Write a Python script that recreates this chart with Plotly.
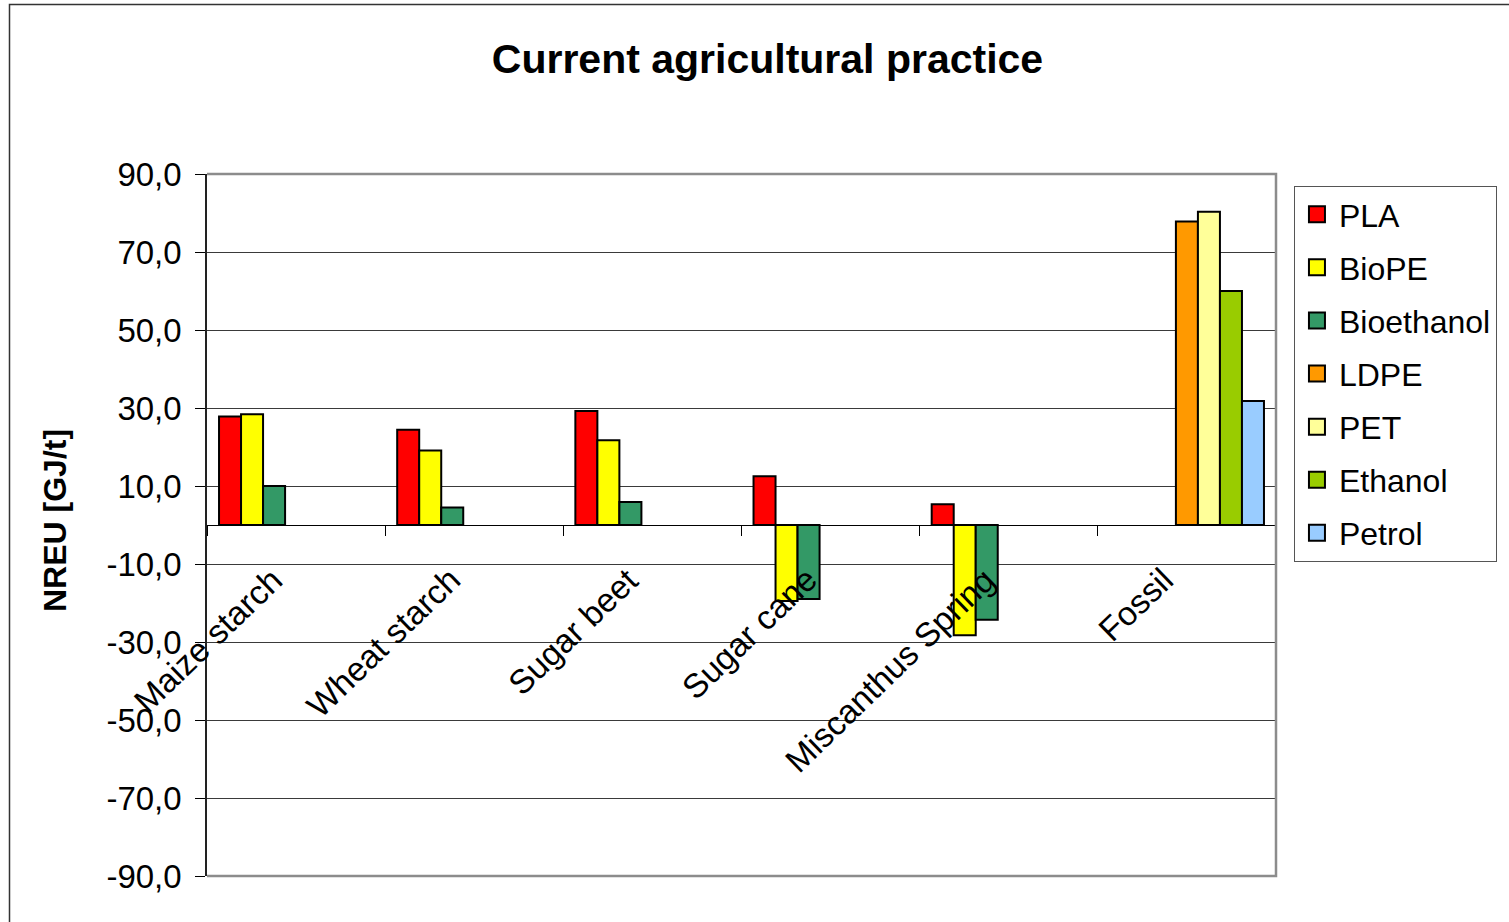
import plotly.graph_objects as go

# Feedstock / reference groups on the category axis
categories = ["Maize starch", "Wheat starch", "Sugar beet", "Sugar cane",
              "Miscanthus Spring", "Fossil"]

# NREU values per product (GJ/t); None where a product has no bar in a group
series_names = ["PLA", "BioPE", "Bioethanol", "LDPE", "PET", "Ethanol", "Petrol"]
pla        = [27.8, 24.4, 29.2, 12.5, 5.3, None]
biope      = [28.4, 19.1, 21.7, -19.5, -28.3, None]
bioethanol = [10.0, 4.5, 5.9, -19.0, -24.3, None]
ldpe       = [None, None, None, None, None, 77.8]
pet        = [None, None, None, None, None, 80.3]
ethanol    = [None, None, None, None, None, 60.0]
petrol     = [None, None, None, None, None, 31.8]

series_values = [pla, biope, bioethanol, ldpe, pet, ethanol, petrol]
series_colors = ["#FF0000", "#FFFF00", "#339966", "#FF9900", "#FFFF99", "#99CC00", "#99CCFF"]

y_ticks = [-90, -70, -50, -30, -10, 10, 30, 50, 70, 90]
y_ticktext = [f"{v:.1f}".replace(".", ",") for v in y_ticks]

FONT = "Liberation Sans, Arial, sans-serif"

fig = go.Figure()

for name, vals, col in zip(series_names, series_values, series_colors):
    fig.add_trace(go.Bar(
        x=categories, y=vals, name=name, legendgroup=name, showlegend=False,
        marker=dict(color=col, line=dict(color="#000000", width=2)),
    ))
    # legend entry with a larger square swatch
    fig.add_trace(go.Scatter(
        x=[None], y=[None], mode="markers", name=name, legendgroup=name,
        marker=dict(symbol="square", size=18, color=col,
                    line=dict(color="#000000", width=2)),
    ))

# Category labels, rotated and hung below the zero line
annotations = []
for cat in categories:
    annotations.append(dict(
        x=cat, y=-8.5, xref="x", yref="y", text=cat, showarrow=False,
        textangle=-44, xanchor="right", yanchor="top", xshift=-4,
        font=dict(family=FONT, size=33.5, color="#000000"),
    ))

# Y axis title
annotations.append(dict(
    x=-0.1422, y=0.5071, xref="paper", yref="paper", text="NREU [GJ/t]",
    showarrow=False, textangle=-90, xanchor="center", yanchor="middle",
    font=dict(family=FONT, size=32, color="#000000", weight="bold"),
))

shapes = [
    # plot area frame (top, right, bottom)
    dict(type="path", xref="paper", yref="paper",
         path="M 0,1 L 1,1 L 1,0 L 0,0",
         line=dict(color="#8c8c8c", width=2.5), layer="above"),
    # outer chart frame
    dict(type="path", xref="paper", yref="paper",
         path="M -0.18475,-0.2 L -0.18475,1.24145 L 1.3,1.24145",
         line=dict(color="#333333", width=1.5), layer="above"),
]

fig.update_layout(
    width=1509, height=922,
    margin=dict(l=207, r=233, t=174, b=46, pad=0),
    paper_bgcolor="#FFFFFF", plot_bgcolor="#FFFFFF",
    barmode="group", bargap=0.135, bargroupgap=0,
    font=dict(family=FONT, size=32, color="#000000"),
    title=dict(text="Current agricultural practice", x=0.5086, xref="container",
               xanchor="center", y=0.936, yref="container", yanchor="middle",
               font=dict(family=FONT, size=41, color="#000000", weight="bold")),
    xaxis=dict(type="category", categoryorder="array", categoryarray=categories,
               range=[-0.5, len(categories) - 0.5],
               anchor="free", position=0.5, tickson="boundaries",
               ticks="outside", ticklen=10, tickwidth=1, tickcolor="#000000",
               showticklabels=False, showgrid=False, showline=False,
               zeroline=False),
    yaxis=dict(range=[-90, 90], tickvals=y_ticks, ticktext=y_ticktext,
               ticks="outside", ticklen=10, tickwidth=1, tickcolor="#000000",
               showgrid=True, gridcolor="#3a3a3a", gridwidth=1,
               zeroline=True, zerolinecolor="#000000", zerolinewidth=1,
               showline=True, linecolor="#222222", linewidth=1.5,
               ticklabelstandoff=7,
               tickfont=dict(family=FONT, size=33, color="#000000")),
    legend=dict(x=1.0168, y=0.983, xanchor="left", yanchor="top",
                bordercolor="#555555", borderwidth=1, bgcolor="#FFFFFF",
                tracegroupgap=8.5, itemwidth=34,
                font=dict(family=FONT, size=32, color="#000000")),
    annotations=annotations,
    shapes=shapes,
)

fig.write_html("out.html")
